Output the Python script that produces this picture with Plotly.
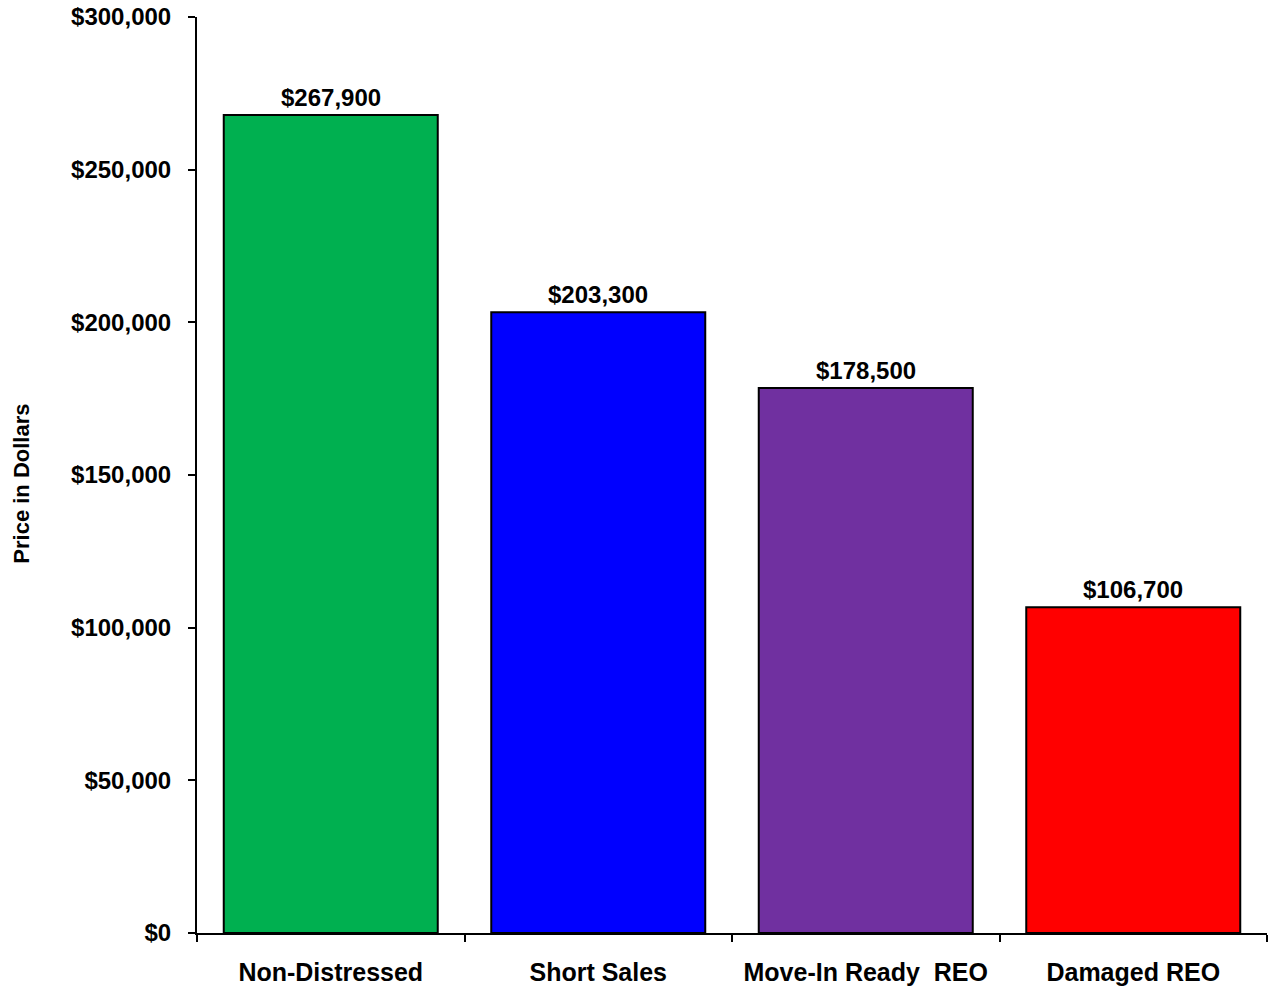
import plotly.graph_objects as go

categories = ["Non-Distressed", "Short Sales", "Move-In Ready  REO", "Damaged REO"]
prices = [267900, 203300, 178500, 106700]
bar_colors = ["#00B050", "#0000FF", "#7030A0", "#FF0000"]
y_tick_values = [0, 50000, 100000, 150000, 200000, 250000, 300000]
y_tick_labels = ["$0", "$50,000", "$100,000", "$150,000", "$200,000", "$250,000", "$300,000"]

FONT = "Liberation Sans, Arial, sans-serif"

fig = go.Figure(
    go.Bar(
        x=categories,
        y=prices,
        marker=dict(color=bar_colors, line=dict(color="black", width=2)),
        width=0.8,
        hoverinfo="skip",
    )
)

# value labels above each bar
for cat, val in zip(categories, prices):
    fig.add_annotation(
        x=cat, y=val, text=f"${val:,}", showarrow=False,
        yanchor="bottom", yshift=2,
        font=dict(family=FONT, size=24, color="black", weight="bold"),
    )

# vertical axis title
fig.add_annotation(
    xref="paper", yref="paper", x=-0.164, y=0.49,
    text="Price in Dollars", textangle=-90, showarrow=False,
    xanchor="center", yanchor="middle",
    font=dict(family=FONT, size=22, color="black", weight="bold"),
)

fig.update_layout(
    width=1269, height=992,
    margin=dict(l=197, r=2, t=17, b=59),
    paper_bgcolor="white", plot_bgcolor="white",
    showlegend=False,
    font=dict(family=FONT, color="black"),
    xaxis=dict(
        type="category",
        tickson="boundaries",
        ticks="outside", ticklen=7, tickwidth=2, tickcolor="black",
        showline=True, linecolor="black", linewidth=2,
        showgrid=False,
        ticklabelstandoff=16,
        tickfont=dict(family=FONT, size=25, color="black", weight="bold"),
    ),
    yaxis=dict(
        range=[0, 300000],
        tickvals=y_tick_values, ticktext=y_tick_labels,
        ticks="outside", ticklen=7, tickwidth=2, tickcolor="black",
        showline=True, linecolor="black", linewidth=2,
        showgrid=False, zeroline=False,
        ticklabelstandoff=12,
        tickfont=dict(family=FONT, size=24, color="black", weight="bold"),
    ),
)

fig.write_html("out.html")
